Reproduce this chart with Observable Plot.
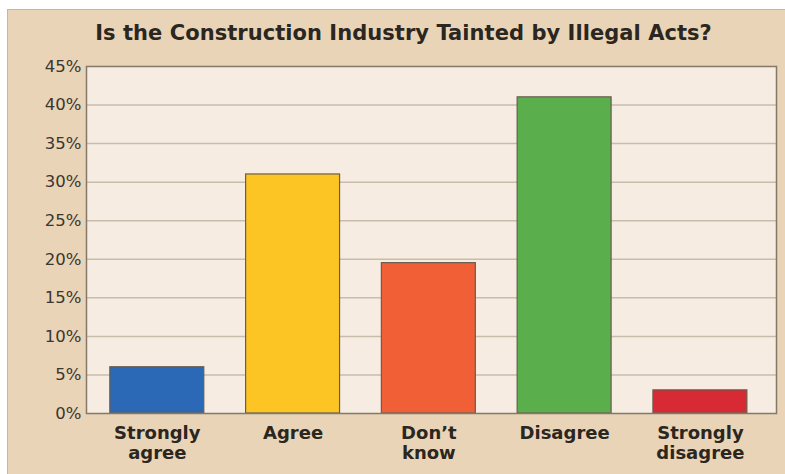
<!DOCTYPE html>
<html>
<head>
<meta charset="utf-8">
<script src="https://cdn.jsdelivr.net/npm/d3@7"></script>
<script src="https://cdn.jsdelivr.net/npm/@observablehq/plot@0.6"></script>
<style>
  html, body { margin: 0; padding: 0; background: #ffffff; }
  #panel {
    position: absolute; left: 7px; top: 9px; width: 778px; height: 465px;
    background: #e9d4b7; border-top: 1px solid #c4b7a6; border-left: 1px solid #c4b7a6;
    box-sizing: border-box; overflow: hidden;
  }
  #title {
    position: absolute; left: 0; width: 791px; top: 13px; line-height: 21px;
    text-align: center; font-family: "DejaVu Sans", sans-serif; font-weight: bold;
    font-size: 21px; color: #2b2620; white-space: nowrap; letter-spacing: 0.05px;
  }
  #chart { position: absolute; left: -1px; top: 46px; }
</style>
</head>
<body>
<div id="panel">
  <div id="title">Is the Construction Industry Tainted by Illegal Acts?</div>
  <div id="chart"></div>
</div>
<script>
const categories = ["Strongly\nagree", "Agree", "Don’t\nknow", "Disagree", "Strongly\ndisagree"];
const values = [6, 31, 19.5, 41, 3];
const barColors = ["#2b68b6", "#fcc524", "#f05f35", "#5bae4c", "#d72a34"];
const yTicks = [0, 5, 10, 15, 20, 25, 30, 35, 40, 45];
const gridTicks = [5, 10, 15, 20, 25, 30, 35, 40];

const data = categories.map((c, i) => ({category: c, value: values[i], color: barColors[i]}));

const chart = Plot.plot({
  width: 778,
  height: 417,
  marginLeft: 79,
  marginRight: 9,
  marginTop: 10,
  marginBottom: 60,
  style: {background: "transparent", overflow: "visible"},
  x: {domain: categories, paddingInner: 0.308, paddingOuter: 0.195, align: 0.45, round: false, label: null},
  y: {domain: [0, 45], ticks: yTicks, label: null},
  marks: [
    Plot.frame({fill: "#f6ece1", stroke: null}),
    Plot.ruleY(gridTicks, {stroke: "#c9bcab", strokeWidth: 1.5}),
    Plot.barY(data, {x: "category", y: "value", fill: "color", stroke: "#6a5d4f", strokeWidth: 1.2}),
    Plot.frame({stroke: "#847868", strokeWidth: 1.5}),
    Plot.axisY({ticks: yTicks, tickSize: 0, tickPadding: 5, tickFormat: d => d + "%",
      fontSize: 16.5, fill: "#3b3630", fontFamily: "DejaVu Sans, sans-serif", label: null}),
    Plot.axisX({tickSize: 0, tickPadding: 11, fontSize: 18, fontWeight: "bold",
      lineHeight: 1.13, fill: "#2b2620", fontFamily: "DejaVu Sans, sans-serif", label: null})
  ]
});
document.getElementById("chart").appendChild(chart);
</script>
</body>
</html>
